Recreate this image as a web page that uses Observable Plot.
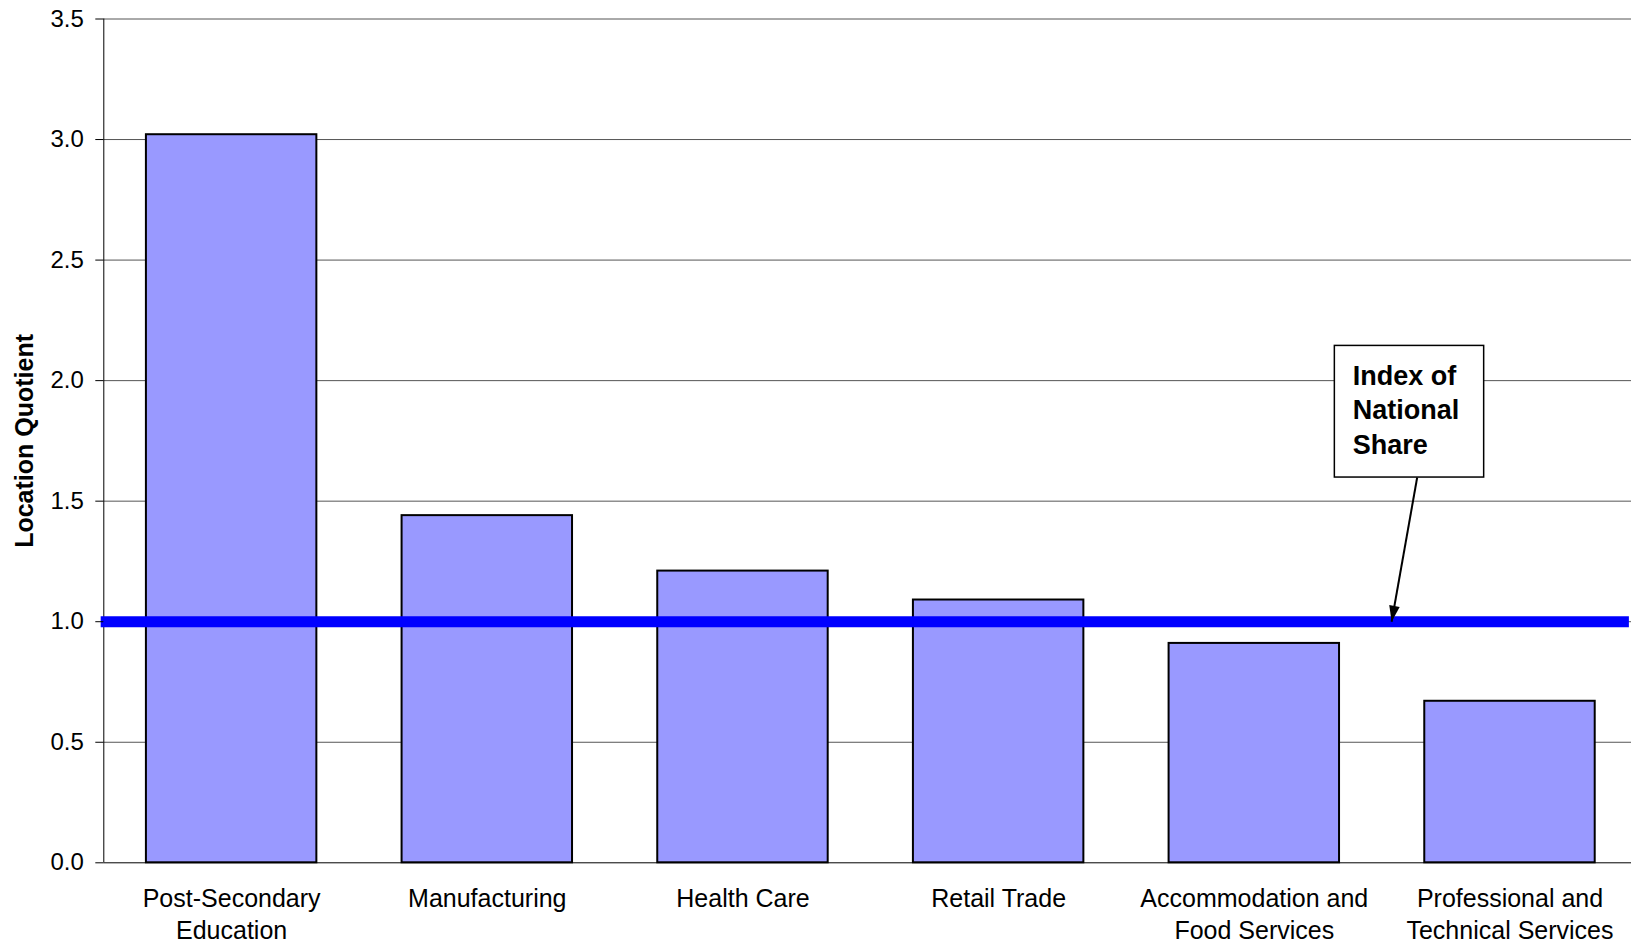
<!DOCTYPE html>
<html><head><meta charset="utf-8">
<script src="https://cdn.jsdelivr.net/npm/d3@7"></script>
<script src="https://cdn.jsdelivr.net/npm/@observablehq/plot@0.6"></script>
<style>html,body{margin:0;padding:0;background:#fff;overflow:hidden}</style>
</head><body><div id="chart"></div>
<script>
// ---- data ----
const categories = ["Post-Secondary Education", "Manufacturing", "Health Care", "Retail Trade", "Accommodation and Food Services", "Professional and Technical Services"];
const tickLabels = ["Post-Secondary\nEducation", "Manufacturing", "Health Care", "Retail Trade", "Accommodation and\nFood Services", "Professional and\nTechnical Services"];
const locationQuotients = [3.02, 1.44, 1.21, 1.09, 0.91, 0.67];
const yTicks = [0, 0.5, 1.0, 1.5, 2.0, 2.5, 3.0, 3.5];
const nationalIndex = [1.0];
const annotationText = ["Index of", "National", "Share"];
const yAxisTitle = ["Location Quotient"];

// ---- derived tables ----
const bars = categories.map((c, i) => ({category: c, i, value: locationQuotients[i]}));
const xTickPositions = categories.map((c, i) => i + 0.5);
// annotation placement in data coordinates (category index units, LQ units)
const box = [{x1: 4.815, x2: 5.399, y1: 1.598, y2: 2.144}];
const label = [{x: 4.885, y: 2.083, text: annotationText.join("\n")}];
const arrow = [{x1: 5.137, y1: 1.598, x2: 5.037, y2: 1.0}];
const titlePos = [{x: -0.308, y: 1.75, text: yAxisTitle[0]}];
const arrowHead = {
  draw(context, size) {
    const r = Math.sqrt(size / Math.PI);
    context.moveTo(0, 0);
    context.lineTo(-r, -3 * r);
    context.lineTo(r, -3 * r);
    context.closePath();
  }
};

const font = "'Liberation Sans', Arial, Helvetica, sans-serif";
const W = 1631, H = 943;
const mLeft = 103.3, mTop = 18.5, yBottom = 862.3;
const step = 255.67;

const chart = Plot.plot({
  width: W,
  height: H,
  marginLeft: mLeft,
  marginRight: 0,
  marginTop: mTop,
  marginBottom: H - yBottom,
  style: {fontFamily: font, background: "#fff", color: "#000", overflow: "visible"},
  x: {type: "linear", domain: [0, categories.length], range: [mLeft, mLeft + step * categories.length]},
  y: {domain: [0, 3.5], range: [yBottom, mTop]},
  marks: [
    Plot.ruleY(yTicks.filter(d => d > 0), {stroke: "#555", strokeWidth: 1}),
    Plot.rectY(bars, {x1: d => d.i + 1/6, x2: d => d.i + 5/6, y: "value", fill: "#9999ff", stroke: "#000", strokeWidth: 2}),
    Plot.ruleY([0], {stroke: "#000", strokeWidth: 1}),
    Plot.ruleX([0], {y1: 0, y2: 3.5, stroke: "#000", strokeWidth: 1}),
    Plot.ruleY(nationalIndex, {x1: -0.0102, x2: 5.967, stroke: "#0000ff", strokeWidth: 11}),
    Plot.axisY(yTicks, {tickSize: 8, tickPadding: 12, fontSize: 24, tickFormat: d3.format(".1f"), label: null, stroke: "#000"}),
    Plot.axisX(xTickPositions, {tickSize: 0, tickPadding: 21, fontSize: 25, lineHeight: 1.28, lineAnchor: "top", label: null, tickFormat: d => tickLabels[Math.floor(d)]}),
    Plot.rect(box, {x1: "x1", x2: "x2", y1: "y1", y2: "y2", fill: "#fff", stroke: "#000", strokeWidth: 1.5}),
    Plot.text(label, {x: "x", y: "y", text: "text", textAnchor: "start", lineAnchor: "top", fontSize: 27, fontWeight: "bold", lineHeight: 1.27, fill: "#000"}),
    Plot.link(arrow, {x1: "x1", y1: "y1", x2: "x2", y2: "y2", stroke: "#000", strokeWidth: 2}),
    Plot.dot(arrow, {x: "x2", y: "y2", symbol: arrowHead, r: 5.3, fill: "#000", stroke: "none", rotate: 10.3}),
    Plot.text(titlePos, {x: "x", y: "y", text: "text", rotate: -90, fontSize: 25, fontWeight: "bold", fill: "#000"})
  ]
});
document.getElementById("chart").appendChild(chart);
</script>
</body></html>
